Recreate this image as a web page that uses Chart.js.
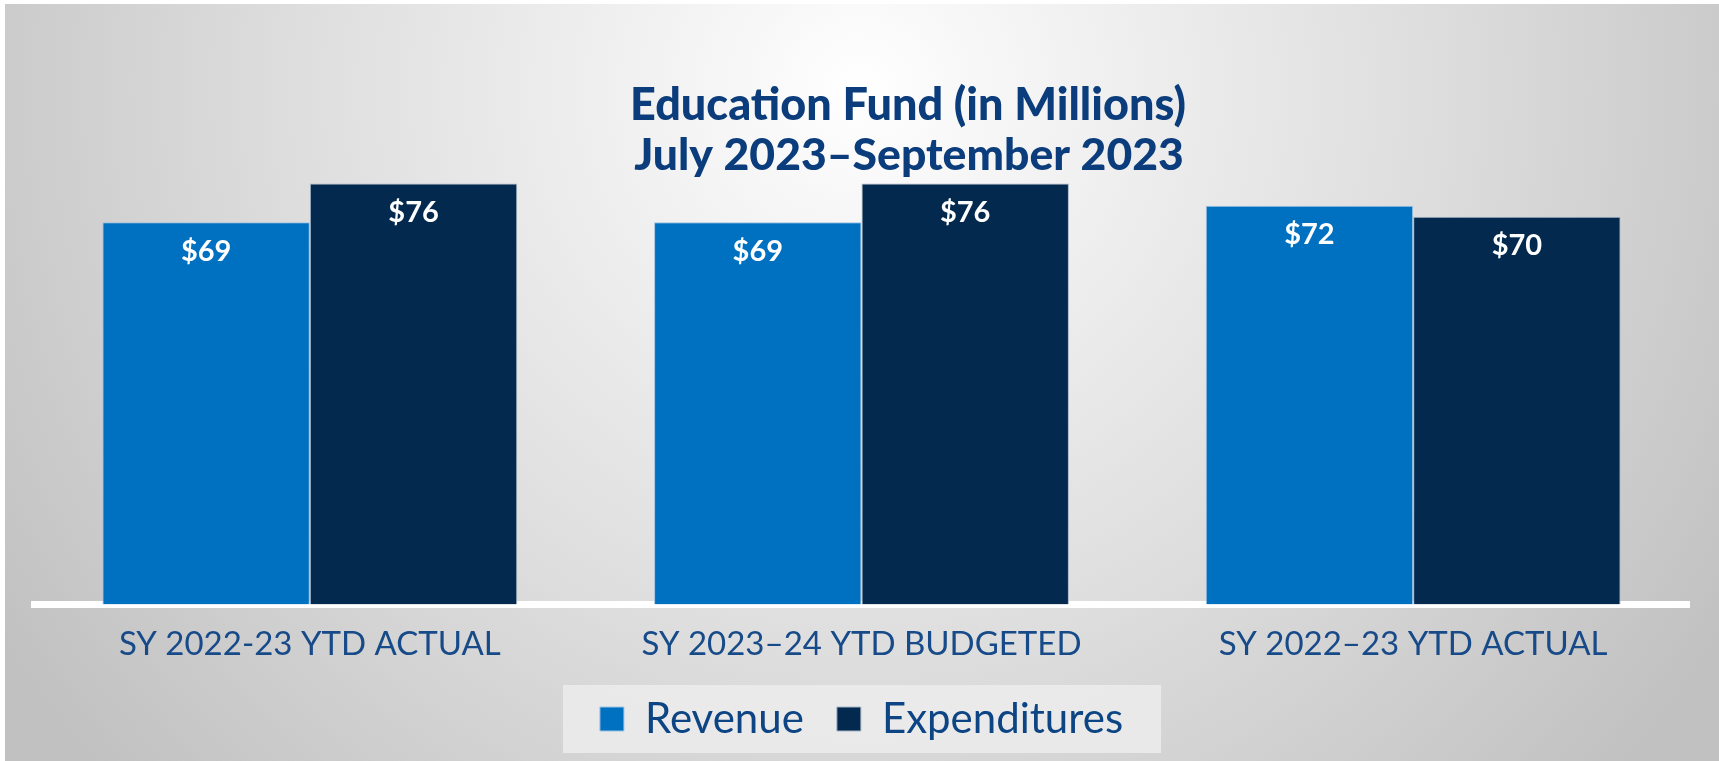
<!DOCTYPE html>
<html>
<head>
<meta charset="utf-8">
<script src="https://cdn.jsdelivr.net/npm/chart.js@4.4.1/dist/chart.umd.min.js"></script>
<style>
  html, body { margin: 0; padding: 0; background: #ffffff; }
  #wrap { width: 1719px; height: 761px; position: relative; }
  canvas { display: block; }
</style>
</head>
<body>
<div id="wrap"><canvas id="c" width="1719" height="761"></canvas></div>
<script>
// ---- data ----
const categories = ['SY 2022-23 YTD ACTUAL', 'SY 2023\u201324 YTD BUDGETED', 'SY 2022\u201323 YTD ACTUAL'];
const revenue = [69, 69, 72];
const expenditures = [76, 76, 70];
const seriesNames = ['Revenue', 'Expenditures'];
const titleLines = ['Education Fund (in Millions)', 'July 2023\u2013September 2023'];

const FONT = 'Lato';
const NAVY_TEXT = '#0b3d7c';

const backgroundPlugin = {
  id: 'bg',
  beforeDraw(chart) {
    const ctx = chart.ctx;
    const w = chart.width, h = chart.height;
    ctx.save();
    ctx.fillStyle = '#ffffff';
    ctx.fillRect(0, 0, w, h);
    const g = ctx.createRadialGradient(860, 90, 0, 860, 90, 1020);
    g.addColorStop(0, '#ffffff');
    g.addColorStop(0.12, '#f7f7f7');
    g.addColorStop(0.55, '#dedede');
    g.addColorStop(1, '#c1c1c1');
    ctx.fillStyle = g;
    ctx.fillRect(5, 4, w - 5, h - 4);

    // legend background panel
    const lg = chart.legend;
    if (lg && lg.legendHitBoxes && lg.legendHitBoxes.length) {
      let minX = Infinity, maxX = -Infinity, minY = Infinity, maxY = -Infinity;
      lg.legendHitBoxes.forEach(hb => {
        minX = Math.min(minX, hb.left);
        maxX = Math.max(maxX, hb.left + hb.width);
        minY = Math.min(minY, hb.top);
        maxY = Math.max(maxY, hb.top + hb.height);
      });
      const cy = (minY + maxY) / 2;
      ctx.fillStyle = 'rgba(236,236,236,0.85)';
      ctx.fillRect(minX - 37, cy - 34, (maxX - minX) + 75, 68);
    }
    ctx.restore();
  }
};

const titlePlugin = {
  id: 'customTitle',
  afterDraw(chart) {
    const ctx = chart.ctx;
    ctx.save();
    ctx.fillStyle = NAVY_TEXT;
    ctx.font = '900 45px ' + FONT;
    ctx.textAlign = 'center';
    ctx.textBaseline = 'alphabetic';
    ctx.fillText(titleLines[0], 908, 120);
    ctx.font = '900 44.5px ' + FONT;
    ctx.fillText(titleLines[1], 909, 170);
    ctx.restore();
  }
};

const valueLabelPlugin = {
  id: 'valueLabels',
  afterDatasetsDraw(chart) {
    const ctx = chart.ctx;
    ctx.save();
    ctx.fillStyle = '#ffffff';
    ctx.font = 'bold 29px ' + FONT;
    ctx.textAlign = 'center';
    ctx.textBaseline = 'middle';
    chart.data.datasets.forEach((ds, di) => {
      const meta = chart.getDatasetMeta(di);
      meta.data.forEach((el, i) => {
        ctx.fillText('$' + ds.data[i], el.x, el.y + 29);
      });
    });
    ctx.restore();
  }
};

function make() {
  new Chart(document.getElementById('c'), {
    type: 'bar',
    data: {
      labels: categories,
      datasets: [
        {
          label: seriesNames[0],
          data: revenue,
          backgroundColor: '#0070c0',
          borderColor: '#9ec3e4',
          borderWidth: 1
        },
        {
          label: seriesNames[1],
          data: expenditures,
          backgroundColor: '#04294f',
          borderColor: '#a7b6c6',
          borderWidth: 1
        }
      ]
    },
    options: {
      responsive: false,
      devicePixelRatio: 1,
      animation: false,
      layout: { padding: { top: 178, left: 34, right: 30, bottom: 11 } },
      datasets: { bar: { categoryPercentage: 0.752, barPercentage: 1.0 } },
      scales: {
        x: {
          grid: { display: false, drawTicks: false },
          border: { display: true, color: '#ffffff', width: 7 },
          ticks: {
            color: '#174a88',
            font: { family: FONT, size: 33, weight: 'normal', lineHeight: 1.2 },
            padding: 20,
            maxRotation: 0,
            autoSkip: false
          },
          afterFit(scale) { scale.height = scale.height - 19; }
        },
        y: {
          display: false,
          min: 0,
          max: 77
        }
      },
      plugins: {
        title: { display: false },
        tooltip: { enabled: false },
        legend: {
          display: true,
          position: 'bottom',
          labels: {
            color: '#0d4584',
            font: { family: FONT, size: 42, weight: 'normal' },
            boxWidth: 24,
            boxHeight: 24,
            padding: 33
          }
        }
      }
    },
    plugins: [backgroundPlugin, valueLabelPlugin, titlePlugin]
  });
}

if (document.fonts && document.fonts.load) {
  Promise.all([
    document.fonts.load('900 45px Lato'),
    document.fonts.load('bold 29px Lato'),
    document.fonts.load('33px Lato')
  ]).then(make, make);
} else {
  make();
}
</script>
</body>
</html>
